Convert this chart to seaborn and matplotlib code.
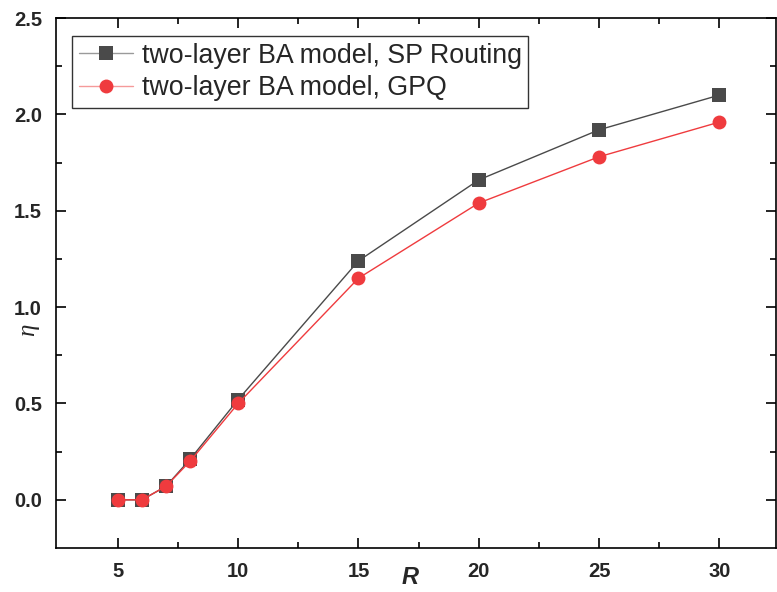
import pandas as pd
import matplotlib
matplotlib.use("Agg")
import matplotlib.pyplot as plt
import seaborn as sns

# data
R_values = [5, 6, 7, 8, 10, 15, 20, 25, 30]
eta_sp = [0.0, 0.0, 0.07, 0.21, 0.52, 1.24, 1.66, 1.92, 2.10]
eta_gpq = [0.0, 0.0, 0.07, 0.20, 0.50, 1.15, 1.54, 1.78, 1.96]
labels = ["two-layer BA model, SP Routing", "two-layer BA model, GPQ"]

df = pd.concat([
    pd.DataFrame({"R": R_values, "eta": eta_sp, "series": labels[0]}),
    pd.DataFrame({"R": R_values, "eta": eta_gpq, "series": labels[1]}),
])

sns.set_style("ticks")
plt.rcParams["font.family"] = ["Liberation Sans", "DejaVu Sans"]
plt.rcParams["mathtext.fontset"] = "custom"
plt.rcParams["mathtext.it"] = "Liberation Serif:italic"

fig = plt.figure(figsize=(7.77, 5.92), dpi=100)
ax = fig.add_axes([56 / 777, 1 - 548 / 592, 720 / 777, 530 / 592])

palette = {labels[0]: "#4a4a4a", labels[1]: "#ef3b3e"}
sns.lineplot(data=df, x="R", y="eta", hue="series", style="series",
             markers={labels[0]: "s", labels[1]: "o"}, dashes=False,
             palette=palette, markersize=10, linewidth=1.0,
             markeredgewidth=0, ax=ax)

ax.set_xlim(2.43, 32.35)
ax.set_ylim(-0.25, 2.5)
ax.set_xticks([5, 10, 15, 20, 25, 30])
ax.set_xticks([7.5, 12.5, 17.5, 22.5, 27.5], minor=True)
ax.set_yticks([0.0, 0.5, 1.0, 1.5, 2.0, 2.5])
ax.set_yticks([0.25, 0.75, 1.25, 1.75, 2.25], minor=True)
ax.set_yticklabels(["0.0", "0.5", "1.0", "1.5", "2.0", "2.5"])

ax.tick_params(which="both", direction="in", top=True, right=True,
               labelsize=14.5, width=1.2, color="black")
ax.tick_params(which="major", length=7)
ax.tick_params(which="minor", length=4)
for lab in ax.get_xticklabels() + ax.get_yticklabels():
    lab.set_fontweight("bold")
ax.tick_params(axis="x", pad=10)
ax.tick_params(axis="y", pad=10)

for sp in ax.spines.values():
    sp.set_linewidth(1.2)
    sp.set_color("black")

ax.set_xlabel("R", fontsize=17, fontweight="bold", fontstyle="italic")
ax.xaxis.label.set_verticalalignment("center")
ax.xaxis.set_label_coords((410 - 56) / 720, (548 - 578) / 530)
ax.set_ylabel(r"$\eta$", fontsize=18)
ax.yaxis.label.set_verticalalignment("center")
ax.yaxis.set_label_coords((30 - 56) / 720, (548 - 330) / 530)

leg = ax.legend(loc="upper left", bbox_to_anchor=(0.022, 0.966), fontsize=19.3,
                frameon=True, fancybox=False, edgecolor="black",
                borderpad=0.25, handlelength=2.05, handletextpad=0.3,
                labelspacing=0.25, borderaxespad=0)
leg.get_frame().set_linewidth(1.0)
# legend handle lines are lighter than the markers in the reference
for h, c, lab in zip(leg.legend_handles, ["#9a9a9a", "#f59a9a"], labels):
    h.set_color(c)
    h.set_markerfacecolor(palette[lab])

fig.savefig("out.png", dpi=100)
